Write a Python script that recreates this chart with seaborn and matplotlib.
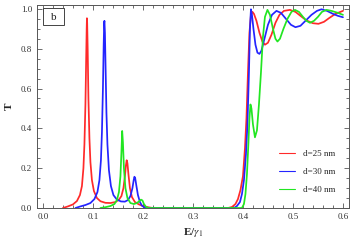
import numpy as np
import pandas as pd
import matplotlib
matplotlib.use("Agg")
import matplotlib.pyplot as plt
from matplotlib.ticker import MultipleLocator
from matplotlib.patches import Rectangle
import seaborn as sns

# transmission T vs E/gamma1
e_25 = [0.040, 0.050, 0.060, 0.068, 0.074, 0.078, 0.081, 0.083, 0.085, 0.0865, 0.0875, 0.088,
        0.0885, 0.0895, 0.091, 0.093, 0.095, 0.098, 0.102, 0.108, 0.115, 0.125, 0.135, 0.145,
        0.152, 0.157, 0.161, 0.164, 0.166, 0.1675, 0.169, 0.171, 0.174, 0.178, 0.184, 0.192,
        0.200, 0.210, 0.220, 0.370, 0.378, 0.385, 0.390, 0.395, 0.400, 0.404, 0.407, 0.410,
        0.413, 0.416, 0.419, 0.422, 0.427, 0.433, 0.439, 0.444, 0.450, 0.457, 0.465, 0.473,
        0.482, 0.494, 0.505, 0.515, 0.527, 0.540, 0.551, 0.562, 0.573, 0.585, 0.600]
t_25 = [0.0, 0.008, 0.018, 0.035, 0.065, 0.11, 0.2, 0.32, 0.52, 0.75, 0.9, 0.953,
        0.93, 0.8, 0.55, 0.35, 0.23, 0.14, 0.085, 0.05, 0.034, 0.026, 0.025, 0.03,
        0.042, 0.06, 0.1, 0.16, 0.215, 0.24, 0.225, 0.17, 0.1, 0.055, 0.03, 0.018,
        0.01, 0.004, 0.0, 0.0, 0.005, 0.02, 0.045, 0.09, 0.16, 0.3, 0.45, 0.68,
        0.88, 0.97, 0.985, 0.975, 0.94, 0.88, 0.835, 0.82, 0.83, 0.87, 0.93, 0.97,
        0.99, 0.995, 0.985, 0.965, 0.942, 0.928, 0.925, 0.935, 0.955, 0.975, 0.99]

e_30 = [0.065, 0.075, 0.085, 0.095, 0.103, 0.109, 0.113, 0.116, 0.118, 0.120, 0.1215, 0.1225,
        0.123, 0.124, 0.1255, 0.127, 0.129, 0.132, 0.136, 0.141, 0.148, 0.156, 0.164, 0.170,
        0.175, 0.179, 0.1815, 0.183, 0.1845, 0.187, 0.190, 0.194, 0.198, 0.203, 0.210, 0.382,
        0.388, 0.394, 0.398, 0.402, 0.406, 0.409, 0.412, 0.414, 0.416, 0.418, 0.421, 0.425,
        0.429, 0.433, 0.437, 0.443, 0.450, 0.458, 0.467, 0.476, 0.486, 0.496, 0.505, 0.515,
        0.525, 0.537, 0.548, 0.557, 0.568, 0.580, 0.590, 0.600]
t_30 = [0.0, 0.008, 0.015, 0.025, 0.045, 0.08, 0.14, 0.24, 0.38, 0.6, 0.82, 0.93,
        0.94, 0.88, 0.68, 0.48, 0.32, 0.19, 0.11, 0.065, 0.042, 0.033, 0.032, 0.04,
        0.06, 0.1, 0.14, 0.157, 0.15, 0.11, 0.065, 0.03, 0.012, 0.003, 0.0, 0.0,
        0.01, 0.03, 0.07, 0.14, 0.27, 0.42, 0.68, 0.9, 0.998, 0.97, 0.9, 0.82,
        0.78, 0.774, 0.79, 0.85, 0.92, 0.97, 0.99, 0.98, 0.95, 0.92, 0.908, 0.915,
        0.94, 0.97, 0.99, 0.998, 0.99, 0.975, 0.965, 0.958]

e_40 = [0.115, 0.125, 0.135, 0.143, 0.148, 0.152, 0.155, 0.157, 0.1585, 0.160, 0.162, 0.165,
        0.169, 0.175, 0.182, 0.188, 0.192, 0.196, 0.199, 0.202, 0.206, 0.212, 0.398, 0.402,
        0.405, 0.408, 0.411, 0.413, 0.415, 0.417, 0.420, 0.424, 0.428, 0.432, 0.436, 0.440,
        0.444, 0.449, 0.454, 0.460, 0.465, 0.469, 0.474, 0.481, 0.489, 0.497, 0.504, 0.512,
        0.520, 0.527, 0.534, 0.542, 0.550, 0.558, 0.567, 0.577, 0.590, 0.600]
t_40 = [0.0, 0.004, 0.01, 0.02, 0.04, 0.08, 0.16, 0.28, 0.387, 0.33, 0.2, 0.1,
        0.05, 0.025, 0.02, 0.025, 0.033, 0.042, 0.038, 0.02, 0.006, 0.0, 0.0, 0.02,
        0.07, 0.17, 0.33, 0.45, 0.52, 0.5, 0.42, 0.355, 0.39, 0.52, 0.68, 0.86,
        0.96, 0.995, 0.97, 0.9, 0.85, 0.836, 0.85, 0.9, 0.95, 0.985, 0.995, 0.985,
        0.96, 0.94, 0.93, 0.94, 0.96, 0.985, 0.995, 0.99, 0.98, 0.97]

labels = ["d=25 nm", "d=30 nm", "d=40 nm"]
colors = ["#ff2a2a", "#2424ff", "#22e622"]

df = pd.concat([
    pd.DataFrame({"E": e_25, "T": t_25, "d": labels[0]}),
    pd.DataFrame({"E": e_30, "T": t_30, "d": labels[1]}),
    pd.DataFrame({"E": e_40, "T": t_40, "d": labels[2]}),
])

sns.set_style("ticks")
plt.rcParams["font.family"] = ["Liberation Serif", "DejaVu Serif"]
plt.rcParams["mathtext.fontset"] = "stix"

fig = plt.figure(figsize=(3.55, 2.45), dpi=100)
ax = fig.add_axes([0.104, 0.151, 0.879, 0.829])

sns.lineplot(data=df, x="E", y="T", hue="d", palette=colors, estimator=None,
             sort=False, linewidth=1.25, ax=ax)

ax.set_xlim(-0.012, 0.612)
ax.set_ylim(0, 1.02)
ax.xaxis.set_major_locator(MultipleLocator(0.1))
ax.xaxis.set_minor_locator(MultipleLocator(0.02))
ax.yaxis.set_major_locator(MultipleLocator(0.2))
ax.yaxis.set_minor_locator(MultipleLocator(0.05))
ax.tick_params(which="both", direction="in", top=True, right=True,
               colors="#555555", labelcolor="#333333", labelsize=6.5, width=0.6)
ax.tick_params(which="major", length=3.5)
ax.tick_params(which="minor", length=2)
for s in ax.spines.values():
    s.set_color("#555555")
    s.set_linewidth(0.7)

ax.set_xlabel(r"E/$\gamma_1$", fontsize=8, fontweight="bold", labelpad=4)
ax.set_ylabel("T", fontsize=8, fontweight="bold", rotation=90, labelpad=5)

leg = ax.legend(loc="lower left", bbox_to_anchor=(0.75, 0.03), frameon=False,
                fontsize=6.5, handlelength=1.8, labelspacing=1.05, handletextpad=0.8)
for line in leg.get_lines():
    line.set_linewidth(0.8)

ax.add_patch(Rectangle((0.019, 0.9), 0.068, 0.083, transform=ax.transAxes,
                       fill=False, edgecolor="#444444", linewidth=0.7))
ax.text(0.053, 0.94, "b", transform=ax.transAxes, ha="center", va="center",
        fontsize=8, color="#222222")

fig.savefig("out.png", dpi=100)
